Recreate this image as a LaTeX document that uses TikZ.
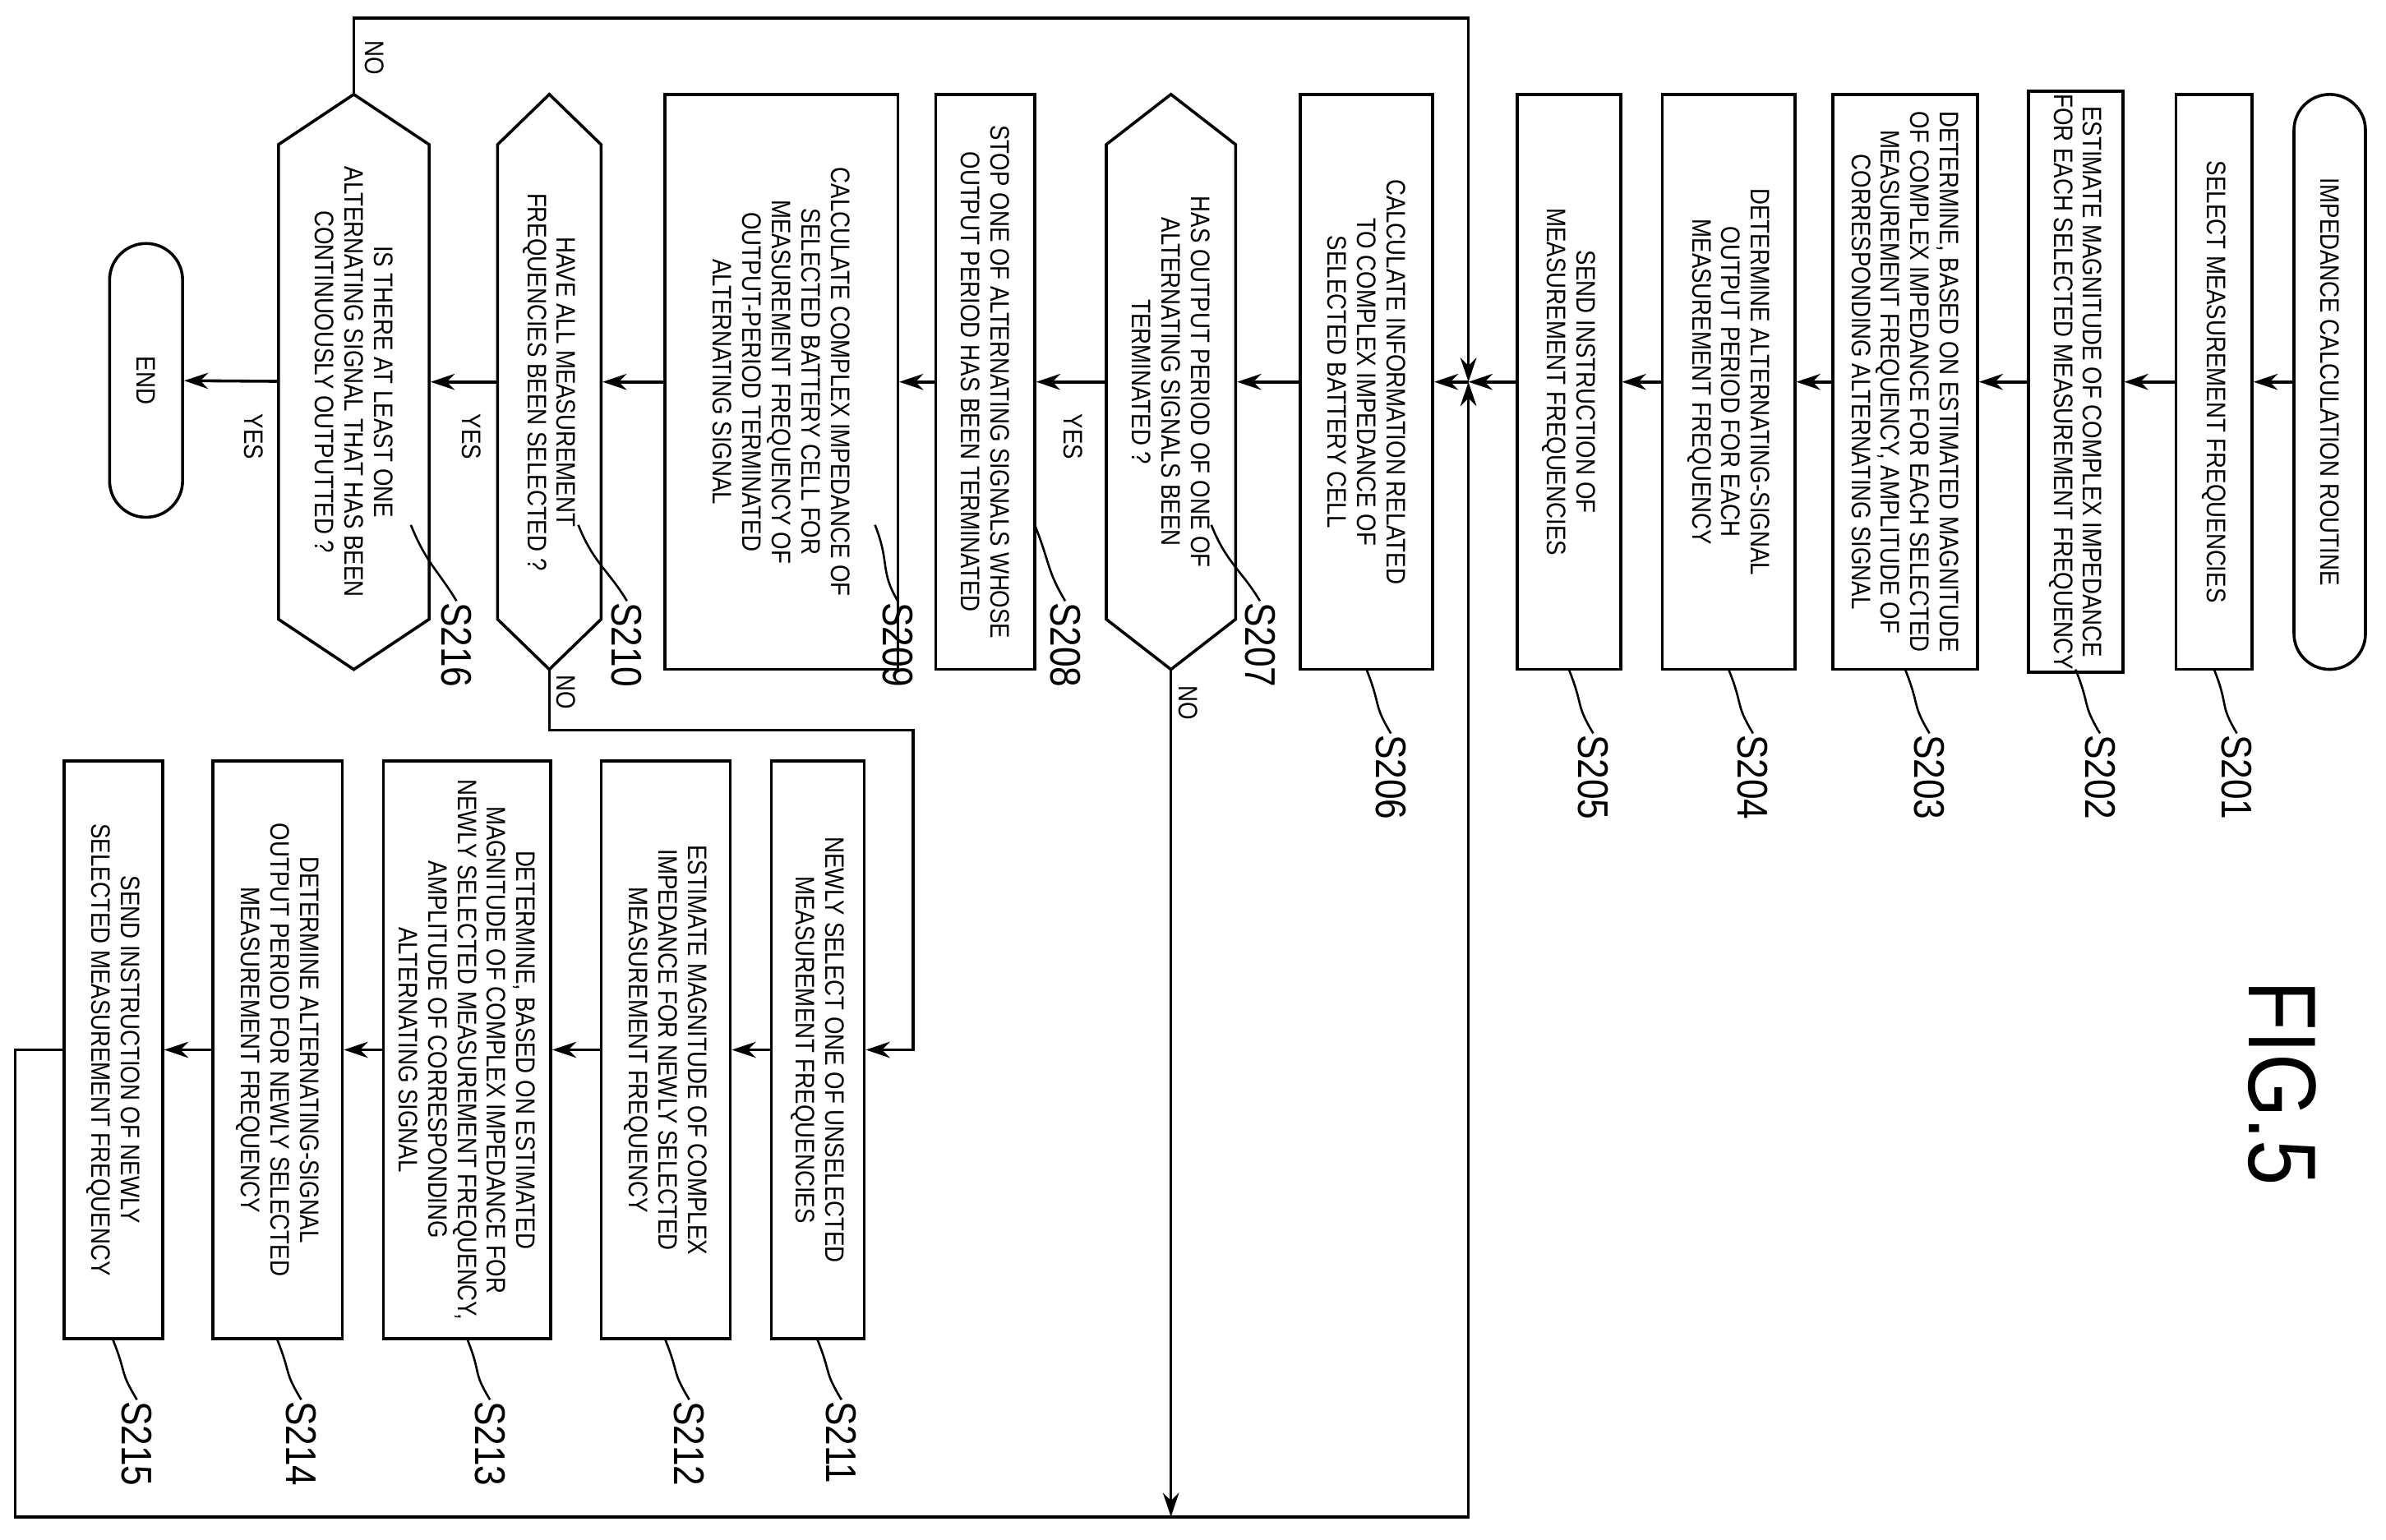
\documentclass[tikz,border=0pt]{standalone}
\usepackage{fontspec}
\setmainfont{Liberation Sans}[FakeStretch=0.85]
\usetikzlibrary{arrows.meta}
\begin{document}
\begin{tikzpicture}[x=0.02cm,y=-0.02cm,line width=1.1pt,
 box/.style={draw,rotate=-90,align=center,inner sep=1pt,font=\fontsize{10}{11}\selectfont,minimum width=7.56cm},
 hx/.style={rotate=-90,align=center,inner sep=1pt,font=\fontsize{10}{11}\selectfont,minimum width=7.56cm},
 lbl/.style={rotate=-90,anchor=west,inner sep=0pt,font=\fontsize{16}{16}\selectfont},
 yn/.style={rotate=-90,inner sep=1pt,font=\fontsize{10}{11}\selectfont},
 arr/.style={-{Stealth[length=9pt,width=6pt]}}]
\useasboundingbox (0,0) rectangle (1568,1012);
% top row
\node[box,rounded corners=0.47cm,minimum height=0.94cm] (st) at (1531,251) {IMPEDANCE CALCULATION ROUTINE};
\node[box,minimum height=1.0cm] (s201) at (1455,251) {SELECT MEASUREMENT FREQUENCIES};
\node[box,minimum height=1.24cm] (s202) at (1364,251) {ESTIMATE MAGNITUDE OF COMPLEX IMPEDANCE\\FOR EACH SELECTED MEASUREMENT FREQUENCY};
\node[box,minimum height=1.9cm] (s203) at (1252,251) {DETERMINE, BASED ON ESTIMATED MAGNITUDE\\OF COMPLEX IMPEDANCE FOR EACH SELECTED\\MEASUREMENT FREQUENCY, AMPLITUDE OF\\CORRESPONDING ALTERNATING SIGNAL};
\node[box,minimum height=1.74cm] (s204) at (1136,251) {DETERMINE ALTERNATING-SIGNAL\\OUTPUT PERIOD FOR EACH\\MEASUREMENT FREQUENCY};
\node[box,minimum height=1.36cm] (s205) at (1031,251) {SEND INSTRUCTION OF\\MEASUREMENT FREQUENCIES};
\coordinate (j) at (965,251);
\node[box,minimum height=1.74cm] (s206) at (898,251) {CALCULATE INFORMATION RELATED\\TO COMPLEX IMPEDANCE OF\\SELECTED BATTERY CELL};
\node[hx,minimum height=1.7cm] (s207) at (769.5,251) {HAS OUTPUT PERIOD OF ONE OF\\ALTERNATING SIGNALS BEEN\\TERMINATED ?};
\draw (769.5,62) -- (812,95) -- (812,407) -- (769.5,440) -- (727,407) -- (727,95) -- cycle;
\node[box,minimum height=1.3cm] (s208) at (647.5,251) {STOP ONE OF ALTERNATING SIGNALS WHOSE\\OUTPUT PERIOD HAS BEEN TERMINATED};
\node[box,minimum height=3.06cm] (s209) at (513.5,251) {CALCULATE COMPLEX IMPEDANCE OF\\SELECTED BATTERY CELL FOR\\MEASUREMENT FREQUENCY OF\\OUTPUT-PERIOD TERMINATED\\ALTERNATING SIGNAL};
\node[hx,minimum height=1.36cm] (s210) at (361,251) {HAVE ALL MEASUREMENT\\FREQUENCIES BEEN SELECTED ?};
\draw (361,62) -- (395,95) -- (395,407) -- (361,440) -- (327,407) -- (327,95) -- cycle;
\node[hx,minimum height=1.98cm] (s216) at (232.5,251) {IS THERE AT LEAST ONE\\ALTERNATING SIGNAL THAT HAS BEEN\\CONTINUOUSLY OUTPUTTED ?};
\draw (232.5,62) -- (282,95) -- (282,407) -- (232.5,440) -- (183,407) -- (183,95) -- cycle;
\node[box,rounded corners=0.48cm,minimum height=0.96cm,minimum width=3.6cm] (end) at (96,250) {END};
% bottom row
\node[box,minimum width=7.6cm,minimum height=1.22cm] (s211) at (537.5,690) {NEWLY SELECT ONE OF UNSELECTED\\MEASUREMENT FREQUENCIES};
\node[box,minimum width=7.6cm,minimum height=1.7cm] (s212) at (437.5,690) {ESTIMATE MAGNITUDE OF COMPLEX\\IMPEDANCE FOR NEWLY SELECTED\\MEASUREMENT FREQUENCY};
\node[box,minimum width=7.6cm,minimum height=2.2cm] (s213) at (307,690) {DETERMINE, BASED ON ESTIMATED\\MAGNITUDE OF COMPLEX IMPEDANCE FOR\\NEWLY SELECTED MEASUREMENT FREQUENCY,\\AMPLITUDE OF CORRESPONDING\\ALTERNATING SIGNAL};
\node[box,minimum width=7.6cm,minimum height=1.7cm] (s214) at (182.5,690) {DETERMINE ALTERNATING-SIGNAL\\OUTPUT PERIOD FOR NEWLY SELECTED\\MEASUREMENT FREQUENCY};
\node[box,minimum width=7.6cm,minimum height=1.3cm] (s215) at (74.5,690) {SEND INSTRUCTION OF NEWLY\\SELECTED MEASUREMENT FREQUENCY};
% connectors
\draw[arr] (st) -- (s201);
\draw[arr] (s201) -- (s202);
\draw[arr] (s202) -- (s203);
\draw[arr] (s203) -- (s204);
\draw[arr] (s204) -- (s205);
\draw[arr] (s205) -- (j);
\draw[arr] (j) -- (s206);
\draw[arr] (s206) -- (s207);
\draw[arr] (s207) -- (s208);
\draw[arr] (s208) -- (s209);
\draw[arr] (s209) -- (s210);
\draw[arr] (s210) -- (s216);
\draw[arr] (s216) -- (end);
\draw[arr] (s211) -- (s212);
\draw[arr] (s212) -- (s213);
\draw[arr] (s213) -- (s214);
\draw[arr] (s214) -- (s215);
\coordinate (t216) at (232.5,62);
\draw[arr] (t216) -- (232.5,12) -- (965,12) -- (j);
\coordinate (b207) at (769.5,440);
\draw[arr] (b207) -- (769.5,997);
\draw[arr] (s215.south) -- (10,690) -- (10,997) -- (965,997) -- (j);
\coordinate (b210) at (361,440);
\draw[arr] (b210) -- (361,480) -- (600,480) -- (600,690) -- (s211);
% yes/no
\node[yn] at (705,287) {YES};
\node[yn] at (781,462) {NO};
\node[yn] at (310,287) {YES};
\node[yn] at (372,455) {NO};
\node[yn] at (167,287) {YES};
\node[yn] at (246,38) {NO};
% step labels
\foreach \n/\bx/\by/\lx/\ly in {201/1455/440/1470/482,202/1364/440/1380/482,203/1252/440/1268/482,204/1136/440/1152/482,205/1031/440/1047/482,206/898/440/914/482,
  207/796/345/828/395,208/680/345/700/395,209/575/345/590/395,210/380/345/412/395,216/270/345/300/395,
  211/537/880/553/920,212/437/880/453/920,213/307/880/322/920,214/182/880/198/920,215/74/880/90/920}{
  \draw[line width=0.8pt] (\bx,\by) .. controls (\bx+10,\by+25) and (\lx-12,\ly-20) .. (\lx,\ly);
  \node[lbl] (l\n) at (\lx,\ly) {S\n};
}
\node[rotate=-90,font=\fontsize{36}{36}\selectfont] (fig) at (1500,712) {FIG.5};
\end{tikzpicture}
\end{document}
